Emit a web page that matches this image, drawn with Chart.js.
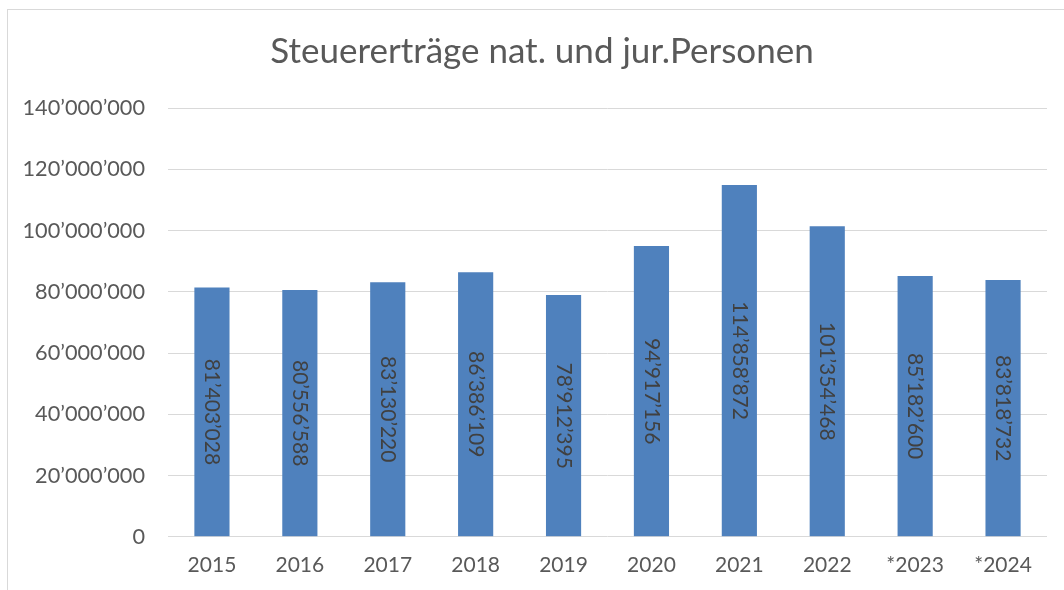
<!DOCTYPE html>
<html>
<head>
<meta charset="utf-8">
<script src="https://cdn.jsdelivr.net/npm/chart.js@4/dist/chart.umd.min.js"></script>
<style>
html,body{margin:0;padding:0;background:#fff;overflow:hidden;width:1064px;height:590px;}
#frame{position:absolute;left:7px;top:9px;width:1080px;height:620px;border:1px solid #d9d9d9;box-sizing:border-box;}
#wrap{position:absolute;left:8px;top:10px;width:1068px;height:597px;}
</style>
</head>
<body>
<div id="frame"></div>
<div id="wrap"><canvas id="c" width="1068" height="597"></canvas></div>
<script>
const categories = ['2015','2016','2017','2018','2019','2020','2021','2022','*2023','*2024'];
const values = [81403028, 80556588, 83130220, 86386109, 78912395, 94917156, 114858872, 101354468, 85182600, 83818732];
const yTicks = [0, 20000000, 40000000, 60000000, 80000000, 100000000, 120000000, 140000000];
const titleText = 'Steuererträge nat. und jur.Personen';

const FONT = 'Lato, "Open Sans", sans-serif';
function fmt(v){
  return String(Math.round(v)).replace(/\B(?=(\d{3})+(?!\d))/g, '\u2019');
}

const chartTitle = {
  id: 'chartTitle',
  afterDraw(chart){
    const ctx = chart.ctx;
    ctx.save();
    ctx.fillStyle = '#595959';
    ctx.font = '35px ' + FONT;
    ctx.textAlign = 'center';
    ctx.textBaseline = 'middle';
    ctx.fillText(titleText, 534, 42);
    ctx.restore();
  }
};

const rotatedLabels = {
  id: 'rotatedLabels',
  afterDatasetsDraw(chart){
    const ctx = chart.ctx;
    const meta = chart.getDatasetMeta(0);
    ctx.save();
    ctx.fillStyle = '#404040';
    ctx.font = '21px ' + FONT;
    ctx.textAlign = 'center';
    ctx.textBaseline = 'middle';
    meta.data.forEach((bar, i) => {
      const cy = (bar.y + bar.base) / 2;
      ctx.save();
      ctx.translate(bar.x, cy);
      ctx.rotate(Math.PI / 2);
      ctx.fillText(fmt(values[i]), 0, 0);
      ctx.restore();
    });
    ctx.restore();
  }
};

new Chart(document.getElementById('c'), {
  type: 'bar',
  data: {
    labels: categories,
    datasets: [{
      data: values,
      backgroundColor: '#4F81BD',
      borderWidth: 0,
      barPercentage: 0.4,
      categoryPercentage: 1.0
    }]
  },
  options: {
    responsive: false,
    animation: false,
    devicePixelRatio: 1,
    layout: { padding: { left: 0, right: 29, top: 98, bottom: 13 } },
    plugins: {
      legend: { display: false },
      tooltip: { enabled: false },
      title: { display: false }
    },
    scales: {
      x: {
        grid: { display: false, drawTicks: false },
        border: { display: false },
        ticks: { color: '#595959', font: { family: FONT, size: 21 }, padding: 16, maxRotation: 0 }
      },
      y: {
        min: 0,
        max: 140000000,
        afterBuildTicks(scale){ scale.ticks = yTicks.map(v => ({ value: v })); },
        afterFit(scale){ scale.width = 160; },
        grid: { color: '#d9d9d9', lineWidth: 1, drawTicks: false },
        border: { display: false },
        ticks: { color: '#595959', font: { family: FONT, size: 21.7 }, padding: 23, callback: v => fmt(v) }
      }
    }
  },
  plugins: [rotatedLabels, chartTitle]
});
</script>
</body>
</html>
